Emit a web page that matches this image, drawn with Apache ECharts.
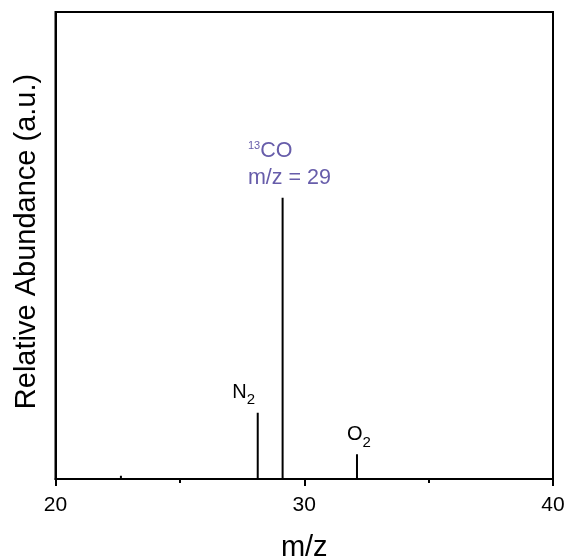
<!DOCTYPE html>
<html>
<head>
<meta charset="utf-8">
<script src="https://cdn.jsdelivr.net/npm/echarts@6/dist/echarts.min.js"></script>
<style>
  html, body { margin: 0; padding: 0; background: #fff; }
  #chart { width: 568px; height: 559px; }
</style>
</head>
<body>
<div id="chart"></div>
<script>
// stick spectrum: peak positions (m/z) and relative heights
const peakMz = [22.63, 26.07, 28.13, 29.13, 30.1, 31.05, 32.12];
const peakHeights = [0.007, 0.002, 0.142, 0.602, 0.003, 0.003, 0.053];
// labelled peaks
const labelMz = [28.13, 29.13, 32.12];
const labelHeights = [0.142, 0.602, 0.053];
const labelTexts = ['{b|N}{sub|2}', '{sup|13}{b|CO}\n{b|m/z = 29}', '{b|O}{sub|2}'];
const xTicks = [20, 30, 40];

const font = 'Liberation Sans, Arial, sans-serif';
const purple = '#675DAA';

// build stick line: baseline with vertical spikes
const lineData = [[xTicks[0], 0]];
peakMz.forEach((mz, i) => {
  lineData.push([mz, 0], [mz, peakHeights[i]], [mz, 0]);
});
lineData.push([xTicks[xTicks.length - 1], 0]);

const labelOffsets = [[-25.4, -20.7], [-34.7, -33], [-10, -19.6]];

const chart = echarts.init(document.getElementById('chart'));
chart.setOption({
  animation: false,
  grid: {
    left: 55.5, right: 15, top: 12, bottom: 80,
    outerBoundsMode: 'none',
    containLabel: false,
    show: true, borderColor: '#000', borderWidth: 2
  },
  xAxis: {
    type: 'value',
    min: 20, max: 40, interval: 10,
    name: 'm/z',
    nameLocation: 'middle',
    nameGap: 54,
    nameTextStyle: { fontSize: 29, color: '#000', fontFamily: font },
    axisLine: { lineStyle: { color: '#000', width: 2 } },
    axisTick: { inside: false, length: 7, lineStyle: { color: '#000', width: 2 } },
    minorTick: { show: true, splitNumber: 2, length: 4, lineStyle: { color: '#000', width: 2 } },
    axisLabel: { fontSize: 21, color: '#000', margin: 16, fontFamily: font },
    splitLine: { show: false }
  },
  yAxis: {
    type: 'value',
    min: 0, max: 1,
    name: 'Relative Abundance (a.u.)',
    nameLocation: 'middle',
    nameGap: 14,
    nameTextStyle: { fontSize: 29, color: '#000', fontFamily: font, padding: [0, 0, 0, 8] },
    axisLine: { show: true, lineStyle: { color: '#000', width: 2 } },
    axisTick: { show: false },
    axisLabel: { show: false },
    splitLine: { show: false }
  },
  series: [
    {
      type: 'line',
      data: lineData,
      symbol: 'none',
      lineStyle: { color: '#000', width: 2 },
      z: 3
    },
    {
      type: 'scatter',
      symbolSize: 1,
      itemStyle: { color: 'rgba(0,0,0,0)', opacity: 1 },
      data: labelMz.map((mz, i) => ({
        value: [mz, labelHeights[i]],
        label: {
          show: true,
          position: 'inside',
          align: 'left',
          verticalAlign: 'middle',
          offset: labelOffsets[i],
          formatter: labelTexts[i],
          color: i === 1 ? purple : '#000',
          rich: {
            b: { fontSize: i === 1 ? 21.5 : 20, lineHeight: 27, fontFamily: font, color: i === 1 ? purple : '#000' },
            sub: { fontSize: 15, padding: [16, 0, 0, 0], fontFamily: font, color: '#000' },
            sup: { fontSize: 11, padding: [0, 0, 10, 0], fontFamily: font, color: purple }
          }
        }
      }))
    }
  ]
});
</script>
</body>
</html>
